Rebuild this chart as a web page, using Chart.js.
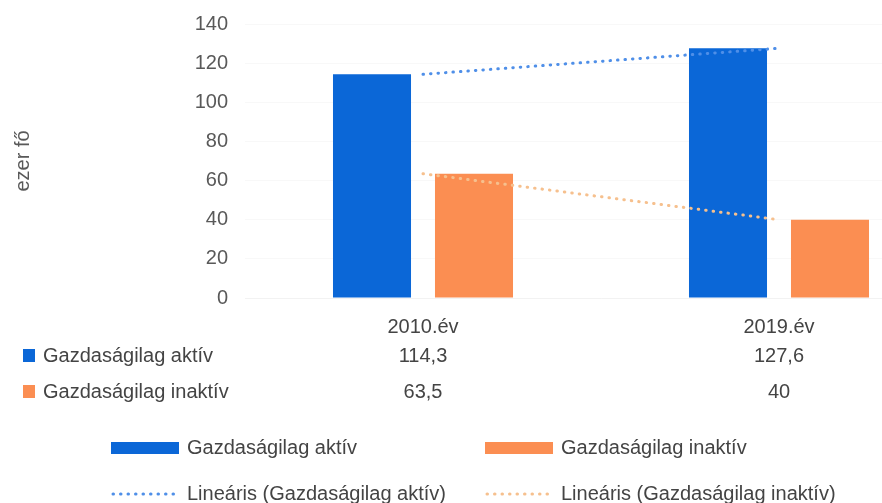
<!DOCTYPE html>
<html>
<head>
<meta charset="utf-8">
<script src="https://cdn.jsdelivr.net/npm/chart.js@4/dist/chart.umd.min.js"></script>
<style>
    html, body { margin: 0; padding: 0; background: #fff; overflow: hidden; }
    #wrap { width: 882px; height: 503px; overflow: hidden; position: relative; }
    #chart { position: absolute; left: 0; top: -5px; }
</style>
</head>
<body>
<div id="wrap"><canvas id="chart" width="960" height="508"></canvas></div>
<script>
const categories = ['2010.év', '2019.év'];
const aktiv = [114.3, 127.6];
const inaktiv = [63.5, 40];
const seriesNames = ['Gazdaságilag aktív', 'Gazdaságilag inaktív'];
const trendNames = ['Lineáris (Gazdaságilag aktív)', 'Lineáris (Gazdaságilag inaktív)'];
const yAxisTitle = 'ezer fő';

const FONT = '"Liberation Sans", Arial, sans-serif';
const BLUE = '#0b67d7';
const ORANGE = '#fb8e52';
const BLUE_TREND = '#4f8fe8';
const ORANGE_TREND = '#f6c08e';
const SHIFT = 5; // canvas sits 5px above the page top

// least squares trend over category index
function linearTrend(values) {
    const n = values.length;
    const xs = values.map((_, i) => i + 1);
    const mx = xs.reduce((a, b) => a + b, 0) / n;
    const my = values.reduce((a, b) => a + b, 0) / n;
    let num = 0, den = 0;
    xs.forEach((x, i) => { num += (x - mx) * (values[i] - my); den += (x - mx) * (x - mx); });
    const slope = den ? num / den : 0;
    return xs.map(x => my + slope * (x - mx));
}

const fmt = v => String(v).replace('.', ',');

// data table under the axis + legend
const tablePlugin = {
    id: 'tableLegend',
    afterDraw(chart) {
        const ctx = chart.ctx;
        const x = chart.scales.x;
        const rows = [
            { name: seriesNames[0], color: BLUE, data: aktiv, y: 356 },
            { name: seriesNames[1], color: ORANGE, data: inaktiv, y: 392 }
        ];
        ctx.save();
        ctx.translate(0, SHIFT);
        ctx.font = '20px ' + FONT;
        ctx.textBaseline = 'middle';
        rows.forEach(r => {
            ctx.fillStyle = r.color;
            ctx.fillRect(23, r.y - 7, 12, 13);
            ctx.fillStyle = '#444';
            ctx.textAlign = 'left';
            ctx.fillText(r.name, 43, r.y);
            ctx.textAlign = 'center';
            r.data.forEach((v, i) => ctx.fillText(fmt(v), x.getPixelForValue(i), r.y));
        });

        // legend
        const items = [
            { label: seriesNames[0], kind: 'bar', color: BLUE, x: 111, y: 448 },
            { label: seriesNames[1], kind: 'bar', color: ORANGE, x: 485, y: 448 },
            { label: trendNames[0], kind: 'dot', color: BLUE_TREND, x: 111, y: 494 },
            { label: trendNames[1], kind: 'dot', color: ORANGE_TREND, x: 485, y: 494 }
        ];
        items.forEach(it => {
            if (it.kind === 'bar') {
                ctx.fillStyle = it.color;
                ctx.fillRect(it.x, it.y - 6, 68, 12);
            } else {
                ctx.strokeStyle = it.color;
                ctx.lineWidth = 3;
                ctx.lineCap = 'round';
                ctx.setLineDash([0.5, 7]);
                ctx.beginPath();
                ctx.moveTo(it.x + 2, it.y);
                ctx.lineTo(it.x + 68, it.y);
                ctx.stroke();
                ctx.setLineDash([]);
            }
            ctx.fillStyle = '#444';
            ctx.textAlign = 'left';
            ctx.fillText(it.label, it.x + 76, it.y);
        });
        ctx.restore();
    }
};

new Chart(document.getElementById('chart'), {
    type: 'bar',
    data: {
        labels: categories,
        datasets: [
            {
                label: seriesNames[0],
                data: aktiv,
                backgroundColor: BLUE,
                categoryPercentage: 0.573,
                barPercentage: 0.765,
                order: 2
            },
            {
                label: seriesNames[1],
                data: inaktiv,
                backgroundColor: ORANGE,
                categoryPercentage: 0.573,
                barPercentage: 0.765,
                order: 2
            },
            {
                type: 'line',
                label: trendNames[0],
                data: linearTrend(aktiv),
                borderColor: BLUE_TREND,
                borderWidth: 3,
                borderDash: [0.5, 7],
                borderCapStyle: 'round',
                pointRadius: 0,
                fill: false,
                order: 1
            },
            {
                type: 'line',
                label: trendNames[1],
                data: linearTrend(inaktiv),
                borderColor: ORANGE_TREND,
                borderWidth: 3,
                borderDash: [0.5, 7],
                borderCapStyle: 'round',
                pointRadius: 0,
                fill: false,
                order: 1
            }
        ]
    },
    options: {
        responsive: false,
        animation: false,
        layout: { padding: { top: 19, right: 3, left: 0, bottom: 0 } },
        plugins: {
            legend: { display: false },
            tooltip: { enabled: false }
        },
        scales: {
            x: {
                grid: { display: false, drawTicks: false },
                border: { color: '#f2f2f2' },
                ticks: { color: '#444', font: { size: 20, family: FONT }, padding: 17 },
                afterFit: s => { s.height = 205; }
            },
            y: {
                min: 0,
                max: 140,
                ticks: { stepSize: 20, color: '#595959', font: { size: 20, family: FONT }, padding: 17 },
                grid: { color: '#f8f8f8', drawTicks: false },
                border: { display: false },
                title: {
                    display: true,
                    text: yAxisTitle,
                    color: '#595959',
                    font: { size: 20, family: FONT },
                    padding: { top: 11, bottom: 0 }
                },
                afterFit: s => { s.width = 245; }
            }
        }
    },
    plugins: [tablePlugin]
});
</script>
</body>
</html>
